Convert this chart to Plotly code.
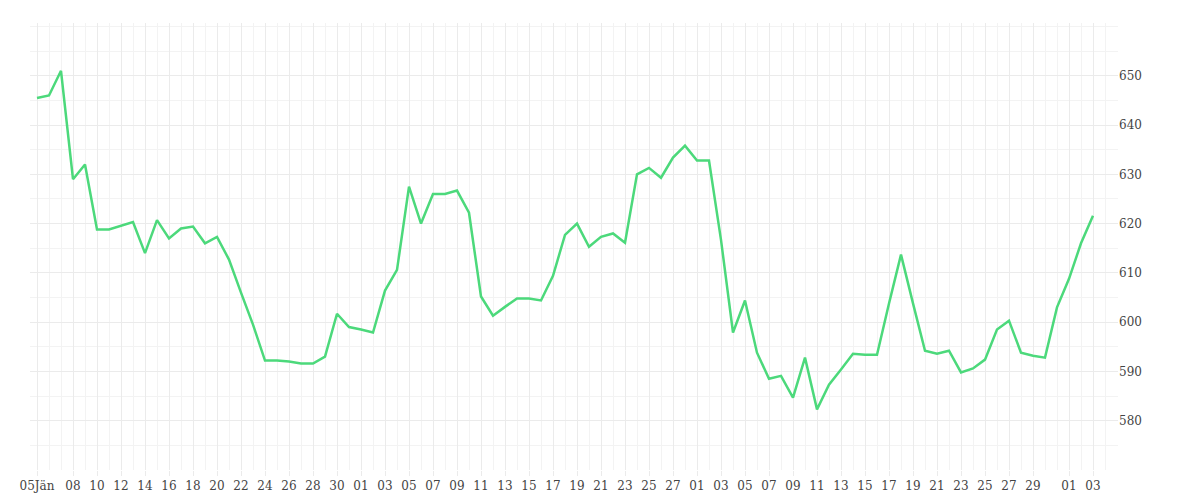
import plotly.graph_objects as go
import pandas as pd

# daily values, 5 Jan to 3 Apr
start_date = "2015-01-05"
values = [
    645.5, 646.0, 651.0, 629.0, 632.0, 618.8, 618.8, 619.6, 620.3, 614.0,
    620.7, 617.0, 619.0, 619.4, 616.0, 617.3, 612.7, 606.0, 599.5, 592.2,
    592.2, 592.0, 591.6, 591.6, 593.0, 601.7, 599.0, 598.5, 597.9, 606.4,
    610.6, 627.5, 620.0, 626.0, 626.0, 626.7, 622.2, 605.2, 601.3, 603.1,
    604.8, 604.8, 604.4, 609.4, 617.7, 620.0, 615.3, 617.3, 618.0, 616.1,
    630.0, 631.3, 629.3, 633.4, 635.8, 632.8, 632.8, 616.7, 597.9, 604.4,
    593.8, 588.5, 589.1, 584.7, 592.8, 582.3, 587.3, 590.4, 593.6, 593.4,
    593.4, 603.8, 613.7, 603.8, 594.2, 593.6, 594.2, 589.8, 590.6, 592.4,
    598.5, 600.3, 593.8, 593.2, 592.8, 603.0, 608.8, 616.0, 621.6,
]
dates = pd.date_range(start_date, periods=len(values), freq="D")

tick_dates = pd.to_datetime(
    ["2015-01-05"]
    + [f"2015-01-{d:02d}" for d in range(8, 31, 2)]
    + [f"2015-02-{d:02d}" for d in range(1, 28, 2)]
    + [f"2015-03-{d:02d}" for d in range(1, 30, 2)]
    + ["2015-04-01", "2015-04-03"]
)
tick_text = ["05Jän"] + [d.strftime("%d") for d in tick_dates[1:]]

fig = go.Figure(
    go.Scatter(
        x=dates, y=values, mode="lines",
        line=dict(color="#4cd97b", width=2.5),
    )
)

grid = "#ebebeb"
fig.update_layout(
    width=1200, height=500,
    margin=dict(l=15, r=90, t=15, b=38),
    plot_bgcolor="white", paper_bgcolor="white",
    showlegend=False,
    font=dict(family="DejaVu Serif", size=12, color="#444"),
    xaxis=dict(
        tickvals=tick_dates, ticktext=tick_text, tickangle=0,
        range=["2015-01-04 10:00", "2015-04-05 02:00"],
        showgrid=True, gridcolor=grid,
        minor=dict(dtick=86400000, showgrid=True, gridcolor="#f3f3f3"),
        ticks="outside", ticklen=5, tickcolor=grid,
        zeroline=False, showline=False,
    ),
    yaxis=dict(
        side="right", range=[570, 660.7],
        tickvals=[580, 590, 600, 610, 620, 630, 640, 650],
        showgrid=True, gridcolor=grid,
        minor=dict(dtick=5, showgrid=True, gridcolor="#f3f3f3"),
        zeroline=False, showline=False,
    ),
)

fig.write_html("out.html")
